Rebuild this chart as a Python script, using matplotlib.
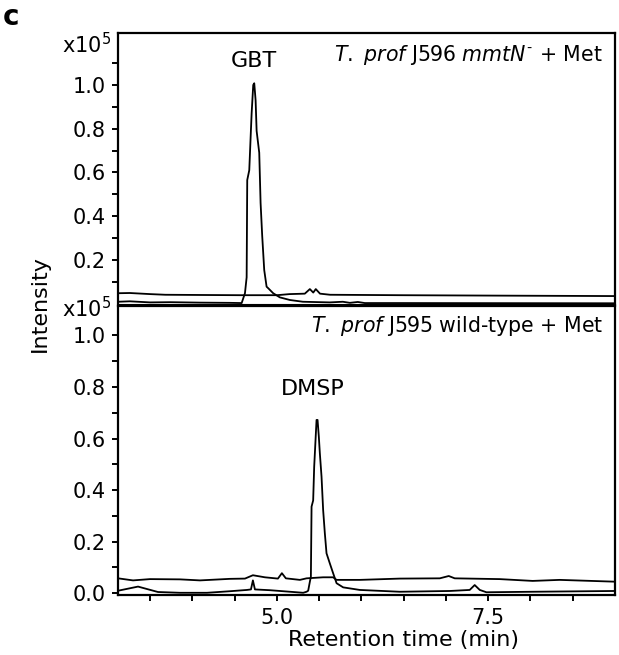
import matplotlib
matplotlib.use("Agg")
import matplotlib.pyplot as plt
from matplotlib.ticker import FixedLocator

# --- data (time in min, intensity in x10^5) ---

# top panel: T. prof J596 mmtN- + Met
top_base_t = [3.12, 3.26, 3.50, 3.68, 4.09, 4.56, 5.00, 5.15, 5.33, 5.39, 5.43,
              5.46, 5.51, 5.63, 6.45, 7.64, 9.00]
top_base_y = [0.047, 0.048, 0.043, 0.040, 0.039, 0.038, 0.038, 0.043, 0.045, 0.066, 0.050,
              0.066, 0.045, 0.040, 0.038, 0.036, 0.034]

top_gbt_t = [3.12, 3.26, 3.50, 3.74, 4.09, 4.44, 4.583, 4.622, 4.642, 4.649, 4.673,
             4.689, 4.701, 4.720, 4.732, 4.748, 4.760, 4.791, 4.807, 4.826, 4.850,
             4.878, 4.897, 4.956, 5.035, 5.154, 5.307, 5.626, 5.780, 5.863, 5.957,
             6.04, 6.45, 9.00]
top_gbt_y = [0.008, 0.010, 0.005, 0.006, 0.004, 0.003, 0.002, 0.047, 0.12, 0.565, 0.61,
             0.76, 0.87, 1.00, 1.008, 0.93, 0.79, 0.69, 0.46, 0.31, 0.153,
             0.077, 0.070, 0.047, 0.028, 0.016, 0.008, 0.005, 0.008, 0.003, 0.007,
             0.002, 0.002, 0.001]

# bottom panel: T. prof J595 wild-type + Met
bot_base_t = [3.121, 3.298, 3.499, 3.853, 4.090, 4.444, 4.622, 4.716, 4.858, 5.012,
              5.059, 5.106, 5.272, 5.351, 5.547, 5.665, 5.706, 5.981, 6.454, 6.927,
              7.033, 7.104, 7.636, 8.026, 8.345, 9.00]
bot_base_y = [0.058, 0.050, 0.055, 0.054, 0.050, 0.056, 0.057, 0.070, 0.062, 0.057,
              0.078, 0.058, 0.052, 0.058, 0.062, 0.062, 0.052, 0.052, 0.057, 0.058,
              0.067, 0.058, 0.055, 0.048, 0.052, 0.045]

bot_dmsp_t = [3.121, 3.357, 3.593, 3.853, 4.173, 4.444, 4.645, 4.693, 4.716, 4.740,
              4.917, 5.154, 5.311, 5.351, 5.370, 5.390, 5.402, 5.410, 5.429, 5.441,
              5.457, 5.469, 5.481, 5.496, 5.508, 5.528, 5.547, 5.567, 5.587, 5.626,
              5.665, 5.706, 5.784, 5.981, 6.454, 7.045, 7.281, 7.340, 7.400, 7.479,
              8.030, 9.00]
bot_dmsp_y = [0.010, 0.026, 0.005, 0.002, 0.002, 0.008, 0.013, 0.015, 0.050, 0.015,
              0.012, 0.006, 0.002, 0.006, 0.010, 0.045, 0.064, 0.336, 0.360, 0.490,
              0.594, 0.672, 0.672, 0.607, 0.543, 0.452, 0.323, 0.233, 0.155, 0.116,
              0.078, 0.039, 0.023, 0.013, 0.006, 0.009, 0.013, 0.032, 0.013, 0.004,
              0.006, 0.009]

x_major = [5.0, 7.5]
x_minor = [3.5, 4.0, 4.5, 5.5, 6.0, 6.5, 7.0, 8.0, 8.5]

W, H = 619, 655
fig = plt.figure(figsize=(W / 100, H / 100), dpi=100)
plt.rcParams['mathtext.fontset'] = 'dejavusans'


def px_axes(left, top, right, bottom):
    return fig.add_axes([left / W, 1 - bottom / H, (right - left) / W, (bottom - top) / H])


ax1 = px_axes(118, 33, 615, 304)
ax2 = px_axes(118, 306, 615, 595)

lw = 1.3
ax1.plot(top_base_t, top_base_y, color='black', lw=lw)
ax1.plot(top_gbt_t, top_gbt_y, color='black', lw=lw)
ax2.plot(bot_base_t, bot_base_y, color='black', lw=lw)
ax2.plot(bot_dmsp_t, bot_dmsp_y, color='black', lw=lw)

for ax in (ax1, ax2):
    ax.set_xlim(3.12, 9.0)
    for s in ax.spines.values():
        s.set_linewidth(1.6)
    ax.tick_params(axis='both', which='both', direction='out', length=4.3, width=1.4,
                   labelsize=15, pad=4.5)

ax1.set_ylim(-0.0023, 1.238)
ax1.spines['bottom'].set_linewidth(0.8)
ax1.set_xticks([])
ax1.yaxis.set_major_locator(FixedLocator([0.2, 0.4, 0.6, 0.8, 1.0]))
ax1.yaxis.set_minor_locator(FixedLocator([0.1, 0.3, 0.5, 0.7, 0.9, 1.1]))
ax1.set_yticklabels(['0.2', '0.4', '0.6', '0.8', '1.0'])

ax2.set_ylim(-0.0066, 1.1136)
ax2.yaxis.set_major_locator(FixedLocator([0.0, 0.2, 0.4, 0.6, 0.8, 1.0]))
ax2.yaxis.set_minor_locator(FixedLocator([0.1, 0.3, 0.5, 0.7, 0.9]))
ax2.set_yticklabels(['0.0', '0.2', '0.4', '0.6', '0.8', '1.0'])
ax2.xaxis.set_major_locator(FixedLocator(x_major))
ax2.xaxis.set_minor_locator(FixedLocator(x_minor))
ax2.set_xticklabels(['5.0', '7.5'])
ax2.tick_params(axis='x', pad=5)

# peak labels
ax1.text(4.73, 1.11, 'GBT', fontsize=16, ha='center', va='center')
ax2.text(5.43, 0.79, 'DMSP', fontsize=16, ha='center', va='center')

# strain annotations
fig.text(603 / W, 1 - 55 / H, r'$\mathit{T.\ prof}$ J596 $\mathit{mmtN}^{\text{-}}$ + Met',
         fontsize=14.8, ha='right', va='center')
fig.text(603 / W, 1 - 326 / H, r'$\mathit{T.\ prof}$ J595 wild-type + Met',
         fontsize=14.8, ha='right', va='center')

# scale factors
fig.text(111 / W, 1 - 45 / H, r'x10$^5$', fontsize=15, ha='right', va='center')
fig.text(111 / W, 1 - 309 / H, r'x10$^5$', fontsize=15, ha='right', va='center')

fig.text(40 / W, 1 - 304 / H, 'Intensity', fontsize=16, rotation=90, ha='center', va='center')
fig.text(403 / W, 1 - 640 / H, 'Retention time (min)', fontsize=16, ha='center', va='center')
fig.text(11 / W, 1 - 17 / H, 'c', fontsize=20, fontweight='bold', ha='center', va='center')

fig.savefig('out.png', dpi=100)
